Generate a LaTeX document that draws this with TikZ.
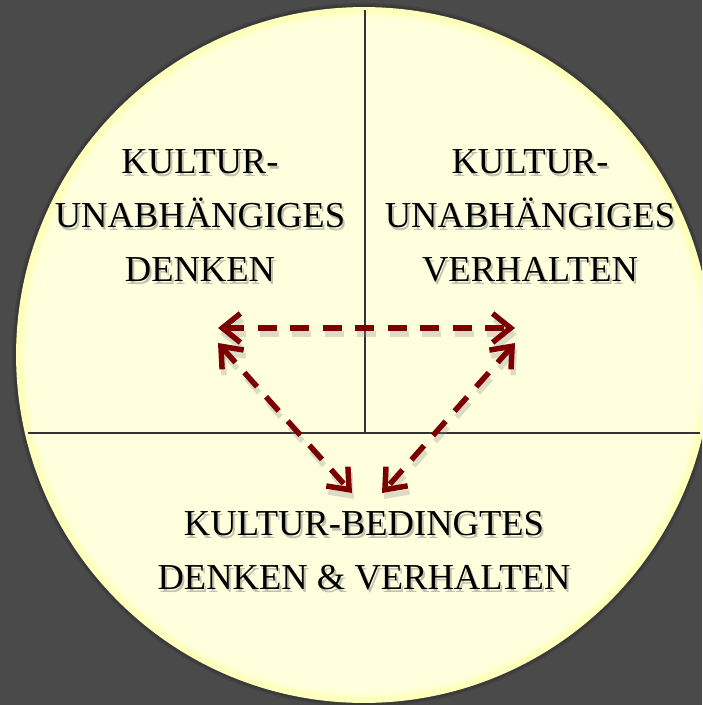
\documentclass[tikz,border=0pt]{standalone}
\usepackage{fontspec}
\setmainfont{Liberation Serif}
\usetikzlibrary{arrows.meta}

\definecolor{bggray}{RGB}{74,74,74}
\definecolor{ringyellow}{RGB}{255,255,188}
\definecolor{paleyellow}{RGB}{255,255,221}
\definecolor{darkred}{RGB}{125,0,0}

\tikzset{
  lbl/.style={align=center,inner sep=0pt,font=\fontsize{20.8}{30.7}\selectfont},
  lblshadow/.style={lbl,text=black!60,opacity=.4},
  barb/.tip={Straight Barb[length=0.36cm,width=0.58cm]},
  link/.style={darkred,line width=0.11cm,dash pattern=on 0.38cm off 0.27cm,barb-barb},
  linkshadow/.style={link,draw=black!45,opacity=.3},
  divider/.style={black!80,line width=0.6pt}
}

\begin{document}
\begin{tikzpicture}[x=0.02cm,y=-0.02cm]
  % ---- background and disc ----
  \fill[bggray] (0,0) rectangle (702,705);
  \useasboundingbox (0,0) rectangle (702,705);
  \begin{scope}
    \clip (0,0) rectangle (702,705);
    \fill[black,opacity=.12] (364,355) circle[radius=7.04cm];
    \fill[black,opacity=.12] (364,355) circle[radius=7.0cm];
    \fill[ringyellow] (364,355) circle[radius=6.96cm];
    \fill[paleyellow!60!ringyellow] (364,355) circle[radius=6.84cm];
    \fill[paleyellow] (364,355) circle[radius=6.76cm];
  \end{scope}
  % quadrant dividers
  \draw[divider] (365,10) -- (365,433);
  \draw[divider] (28,433) -- (700,433);
  % ---- labels (with soft shadow) ----
  \node[lblshadow] (denken-sh) at (202,218.5) {KULTUR-\\UNABHÄNGIGES\\DENKEN};
  \node[lblshadow] (verhalten-sh) at (532,218.5) {KULTUR-\\UNABHÄNGIGES\\VERHALTEN};
  \node[lblshadow] (bedingt-sh) at (366,553.5) {KULTUR-BEDINGTES\\DENKEN \& VERHALTEN};
  \node[lbl] (denken) at (200,216) {KULTUR-\\UNABHÄNGIGES\\DENKEN};
  \node[lbl] (verhalten) at (530,216) {KULTUR-\\UNABHÄNGIGES\\VERHALTEN};
  \node[lbl] (bedingt) at (364,551) {KULTUR-BEDINGTES\\DENKEN \& VERHALTEN};
  % ---- arrow ends ----
  \coordinate (pL) at (218,328);
  \coordinate (pR) at (515,328);
  \coordinate (qL) at (218,343);
  \coordinate (qB) at (352,493);
  \coordinate (rR) at (515,343);
  \coordinate (rB) at (382,493);
  % shadows of the links
  \draw[linkshadow] ([shift={(2,6)}]pL) -- ([shift={(2,6)}]pR);
  \draw[linkshadow] ([shift={(2,6)}]qL) -- ([shift={(2,6)}]qB);
  \draw[linkshadow] ([shift={(2,6)}]rR) -- ([shift={(2,6)}]rB);
  % links
  \draw[link] (pL) -- (pR);
  \draw[link] (qL) -- (qB);
  \draw[link] (rR) -- (rB);
\end{tikzpicture}
\end{document}
